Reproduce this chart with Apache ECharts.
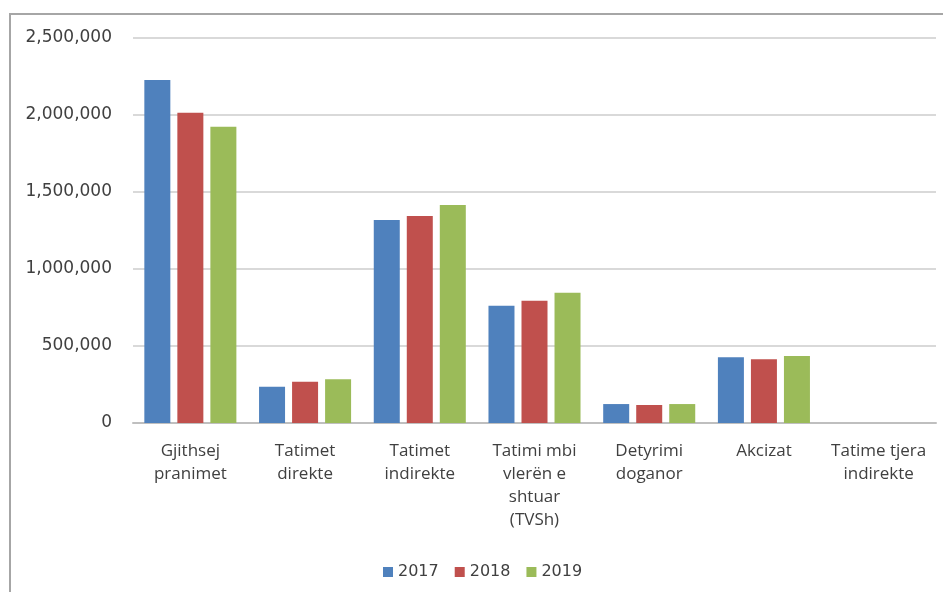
<!DOCTYPE html>
<html>
<head>
<meta charset="utf-8">
<script src="https://cdn.jsdelivr.net/npm/echarts@6/dist/echarts.min.js"></script>
<style>
html,body{margin:0;padding:0;background:#fff;}
#chart{width:943px;height:592px;}
</style>
</head>
<body>
<div id="chart"></div>
<script>
const categories = [
  "Gjithsej\npranimet",
  "Tatimet\ndirekte",
  "Tatimet\nindirekte",
  "Tatimi mbi\nvlerën e\nshtuar\n(TVSh)",
  "Detyrimi\ndoganor",
  "Akcizat",
  "Tatime tjera\nindirekte"
];
const seriesNames = ["2017", "2018", "2019"];
const values2017 = [2227000, 236000, 1318000, 762000, 123000, 427000, 0];
const values2018 = [2015000, 268000, 1344000, 794000, 117000, 414000, 0];
const values2019 = [1924000, 284000, 1416000, 846000, 123000, 435000, 0];
const yTicks = [0, 500000, 1000000, 1500000, 2000000, 2500000];
const colors = ["#4F81BD", "#C0504D", "#9BBB59"];

const chart = echarts.init(document.getElementById('chart'));
const allValues = [values2017, values2018, values2019];
chart.setOption({
  animation: false,
  backgroundColor: '#ffffff',
  color: colors,
  graphic: [{
    type: 'polyline',
    shape: { points: [[10, 592], [10, 14], [943, 14]] },
    style: { stroke: '#a6a6a6', lineWidth: 2, fill: null },
    silent: true
  }],
  grid: { left: 133, right: 7, top: 38, bottom: 169 },
  legend: {
    data: seriesNames,
    left: 378,
    top: 559,
    itemWidth: 10,
    itemHeight: 10,
    itemGap: 16,
    icon: 'rect',
    textStyle: { fontFamily: 'DejaVu Sans', fontSize: 16, color: '#404040' }
  },
  xAxis: {
    type: 'category',
    data: categories,
    axisLine: { lineStyle: { color: '#bfbfbf', width: 2 } },
    axisTick: { show: false },
    axisLabel: {
      interval: 0,
      margin: 17,
      fontFamily: 'Open Sans, sans-serif',
      fontSize: 17,
      lineHeight: 23,
      color: '#404040'
    }
  },
  yAxis: {
    type: 'value',
    min: yTicks[0],
    max: yTicks[yTicks.length - 1],
    interval: yTicks[1] - yTicks[0],
    axisLine: { show: false },
    axisTick: { show: false },
    splitLine: { lineStyle: { color: '#d9d9d9', width: 2 } },
    axisLabel: {
      margin: 21,
      fontFamily: 'DejaVu Sans',
      fontSize: 17,
      color: '#404040',
      formatter: v => v.toLocaleString('en-US')
    }
  },
  series: seriesNames.map((name, i) => ({
    name: name,
    type: 'bar',
    data: allValues[i],
    barWidth: 26,
    barGap: '27%',
    itemStyle: { color: colors[i] }
  }))
});
</script>
</body>
</html>
